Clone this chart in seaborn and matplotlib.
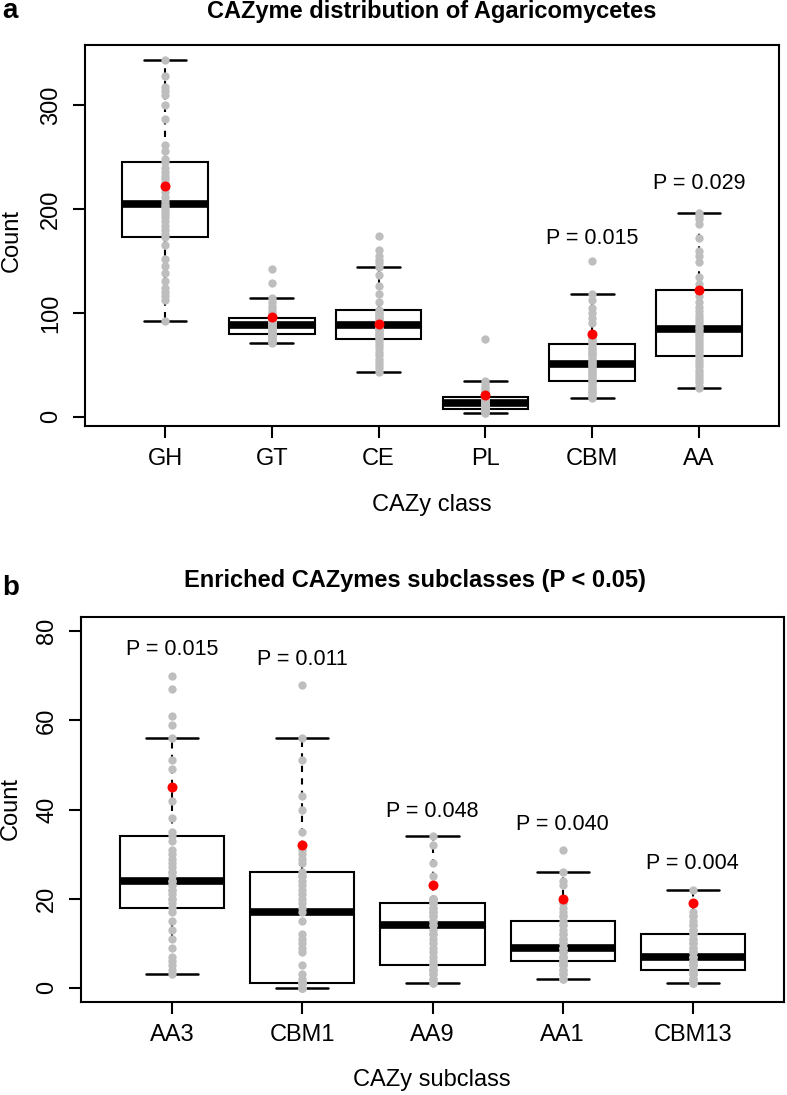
import numpy as np
import pandas as pd
import matplotlib
matplotlib.use("Agg")
import matplotlib.pyplot as plt
import seaborn as sns

# ---------------- data: panel a ----------------
classes = ["GH", "GT", "CE", "PL", "CBM", "AA"]
gh = [92, 112, 116, 120, 124, 131, 138, 145, 152, 165, 173, 176, 180, 184, 188, 192, 195, 198, 201, 203,
      205, 208, 212, 216, 220, 225, 229, 232, 236, 240, 245, 248, 256, 262, 287, 300, 310, 314, 318, 328, 344]
gt = [71, 72, 73, 74, 75, 76, 77, 78, 79, 79, 80, 81, 82, 83, 84, 85, 85, 86, 87, 87,
      88, 89, 89, 90, 90, 91, 92, 92, 93, 94, 95, 96, 97, 99, 101, 104, 107, 110, 114, 129, 142]
ce = [43, 47, 50, 53, 56, 59, 62, 66, 69, 72, 75, 77, 79, 80, 82, 83, 84, 85, 86, 87,
      88, 89, 90, 92, 93, 95, 96, 98, 100, 101, 103, 110, 118, 126, 136, 144, 148, 151, 155, 161, 174]
pl = [4, 4, 5, 5, 5, 6, 6, 6, 7, 7, 7, 8, 9, 9, 10, 10, 11, 11, 12, 12,
      13, 13, 14, 14, 15, 15, 16, 17, 17, 18, 19, 20, 21, 22, 23, 25, 27, 29, 31, 34, 75]
cbm = [18, 19, 21, 23, 24, 26, 28, 29, 31, 33, 34, 36, 38, 40, 41, 43, 45, 46, 48, 50,
       51, 53, 54, 56, 58, 60, 61, 63, 65, 67, 70, 72, 74, 76, 90, 95, 100, 105, 112, 118, 150]
aa = [28, 30, 33, 36, 39, 42, 45, 49, 52, 55, 58, 60, 63, 66, 69, 72, 75, 78, 80, 82,
      84, 86, 89, 92, 95, 98, 102, 106, 110, 116, 122, 128, 135, 149, 155, 160, 172, 186, 190, 193, 196]
focal_a = [222, 96, 89, 21, 80, 122]
p_classes_a = ["CBM", "AA"]
p_text_a = ["P = 0.015", "P = 0.029"]
p_y_a = [172, 225]

# ---------------- data: panel b ----------------
subclasses = ["AA3", "CBM1", "AA9", "AA1", "CBM13"]
aa3 = [3, 4, 5, 6, 7, 9, 11, 13, 15, 17, 18, 19, 20, 20, 21, 22, 22, 23, 23, 24,
       24, 25, 26, 26, 27, 28, 29, 30, 31, 33, 34, 35, 38, 42, 49, 51, 56, 59, 61, 67, 70]
cbm1 = [0, 0, 0, 0, 1, 1, 1, 1, 1, 1, 1, 2, 3, 5, 8, 9, 10, 11, 12, 15,
        17, 18, 19, 20, 21, 22, 23, 24, 25, 25, 26, 28, 29, 30, 31, 35, 40, 43, 51, 56, 68]
aa9 = [1, 1, 2, 2, 3, 3, 4, 4, 4, 5, 5, 6, 7, 8, 9, 10, 11, 12, 12, 13,
       14, 14, 15, 15, 16, 16, 17, 17, 18, 18, 19, 19, 20, 20, 20, 20, 20, 25, 28, 32, 34]
aa1 = [2, 2, 3, 3, 4, 4, 5, 5, 5, 6, 6, 6, 7, 7, 7, 8, 8, 8, 9, 9,
       9, 10, 10, 11, 11, 12, 12, 13, 14, 14, 15, 16, 16, 17, 18, 19, 20, 23, 24, 26, 31]
cbm13 = [1, 1, 1, 2, 2, 2, 3, 3, 3, 4, 4, 4, 5, 5, 5, 6, 6, 6, 7, 7,
         7, 8, 8, 8, 9, 9, 10, 10, 11, 11, 12, 12, 13, 13, 14, 14, 15, 16, 16, 17, 22]
focal_b = [45, 32, 23, 20, 19]
p_text_b = ["P = 0.015", "P = 0.011", "P = 0.048", "P = 0.040", "P = 0.004"]
p_y_b = [76, 73.7, 39.5, 36.6, 27.9]

# ---------------- style ----------------
sns.set_style("ticks")
plt.rcParams["font.family"] = ["Liberation Sans", "DejaVu Sans"]
plt.rcParams["text.color"] = "black"
plt.rcParams["axes.labelcolor"] = "black"
plt.rcParams["xtick.color"] = "black"
plt.rcParams["ytick.color"] = "black"
plt.rcParams["axes.edgecolor"] = "black"

W, H = 787, 1095
fig = plt.figure(figsize=(W / 100, H / 100), dpi=100)


def rect(l, t, r, b):
    return [l / W, 1 - b / H, (r - l) / W, (b - t) / H]


ax_a = fig.add_axes(rect(85, 45, 779, 426))
ax_b = fig.add_axes(rect(81, 617, 784, 1002))

GREY = "#BEBEBE"
TICK_FS = 17


def panel(ax, cats, series, focal):
    df = pd.DataFrame({
        "cat": np.repeat(cats, [len(s) for s in series]),
        "val": np.concatenate([np.asarray(s, float) for s in series]),
    })
    sns.boxplot(data=df, x="cat", y="val", order=cats, ax=ax, width=0.8,
                color="white", linecolor="black", linewidth=1.5, showfliers=False,
                whis=1.5, saturation=1,
                medianprops=dict(linewidth=5.5, color="black", solid_capstyle="butt"),
                whiskerprops=dict(linestyle=(0, (3, 3)), linewidth=1.5),
                capprops=dict(linewidth=1.8),
                boxprops=dict(linewidth=1.5))
    sns.stripplot(data=df, x="cat", y="val", order=cats, ax=ax, jitter=False,
                  color=GREY, size=6.0, linewidth=0, zorder=5)
    fdf = pd.DataFrame({"cat": cats, "val": focal})
    sns.stripplot(data=fdf, x="cat", y="val", order=cats, ax=ax, jitter=False,
                  color="#FF0000", size=7.2, linewidth=0, zorder=6)
    ax.set_xlabel("")
    ax.set_ylabel("")
    for sp in ax.spines.values():
        sp.set_visible(True)
        sp.set_linewidth(1.5)
        sp.set_color("black")
    ax.tick_params(axis="both", direction="out", length=8.5, width=1.5,
                   labelsize=TICK_FS, color="black", labelcolor="black")
    ax.tick_params(axis="x", pad=7)
    ax.tick_params(axis="y", pad=8)


panel(ax_a, classes, [gh, gt, ce, pl, cbm, aa], focal_a)
ax_a.set_xlim(-0.75, 5.75)
ax_a.set_ylim(-9, 358)
ax_a.set_yticks([0, 100, 200, 300])
plt.setp(ax_a.get_yticklabels(), rotation=90, va="center")
for c, t, y in zip(p_classes_a, p_text_a, p_y_a):
    ax_a.text(classes.index(c), y, t, ha="center", va="center", fontsize=15.5)

panel(ax_b, subclasses, [aa3, cbm1, aa9, aa1, cbm13], focal_b)
ax_b.set_xlim(-0.7, 4.7)
ax_b.set_ylim(-3.2, 83.2)
ax_b.set_yticks([0, 20, 40, 60, 80])
plt.setp(ax_b.get_yticklabels(), rotation=90, va="center")
for i, (t, y) in enumerate(zip(p_text_b, p_y_b)):
    ax_b.text(i, y, t, ha="center", va="center", fontsize=15.5)

# titles, labels, panel letters
fig.text(432 / W, 1 - 18 / H, "CAZyme distribution of Agaricomycetes", ha="center",
         va="baseline", fontsize=17, fontweight="bold")
fig.text(415 / W, 1 - 587 / H, "Enriched CAZymes subclasses (P < 0.05)", ha="center",
         va="baseline", fontsize=17, fontweight="bold")
fig.text(2 / W, 1 - 18 / H, "a", ha="left", va="baseline", fontsize=20, fontweight="bold")
fig.text(2 / W, 1 - 595 / H, "b", ha="left", va="baseline", fontsize=20, fontweight="bold")
fig.text(432 / W, 1 - 505 / H, "CAZy class", ha="center", va="center", fontsize=TICK_FS)
fig.text(432 / W, 1 - 1080 / H, "CAZy subclass", ha="center", va="center", fontsize=TICK_FS)
fig.text(12 / W, 1 - 240 / H, "Count", ha="center", va="center", rotation=90, fontsize=TICK_FS)
fig.text(11 / W, 1 - 809 / H, "Count", ha="center", va="center", rotation=90, fontsize=TICK_FS)

fig.savefig("out.png", dpi=100)
